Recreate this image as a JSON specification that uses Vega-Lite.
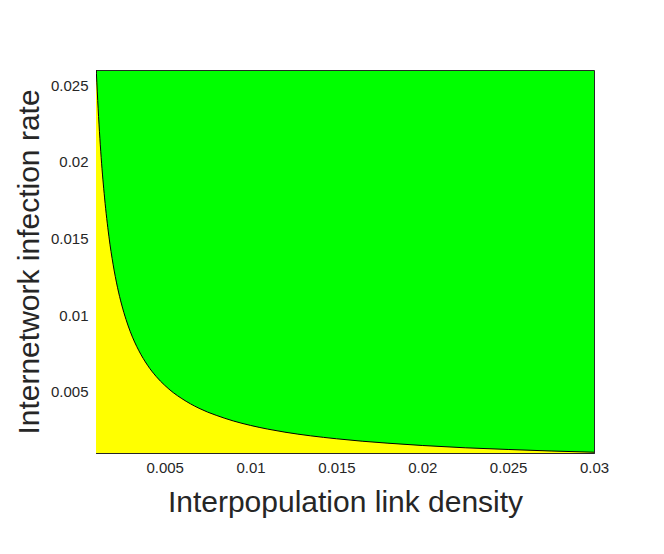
{
  "$schema": "https://vega.github.io/schema/vega-lite/v6.json",
  "autosize": "none",
  "width": 498,
  "height": 383,
  "padding": {"left": 96, "top": 70, "right": 70, "bottom": 101},
  "background": "white",
  "config": {
    "view": {"fill": "#00ff00", "stroke": "#262626", "strokeWidth": 1},
    "font": "Liberation Sans",
    "axis": {
      "domainColor": "#262626",
      "labelColor": "#262626",
      "titleColor": "#262626",
      "labelFont": "Liberation Sans",
      "titleFont": "Liberation Sans",
      "labelFontSize": 15,
      "titleFontSize": 30,
      "titleFontWeight": "normal",
      "grid": false,
      "ticks": false
    }
  },
  "data": {
    "values": [
      {"x": 0.001, "y": 0.0264},
      {"x": 0.0011, "y": 0.0240},
      {"x": 0.0012, "y": 0.0220},
      {"x": 0.0013, "y": 0.0203},
      {"x": 0.0015, "y": 0.01765},
      {"x": 0.00175, "y": 0.01515},
      {"x": 0.002, "y": 0.01328},
      {"x": 0.00225, "y": 0.01182},
      {"x": 0.0025, "y": 0.01066},
      {"x": 0.00275, "y": 0.00971},
      {"x": 0.003, "y": 0.00891},
      {"x": 0.00325, "y": 0.00824},
      {"x": 0.0035, "y": 0.00767},
      {"x": 0.00375, "y": 0.00717},
      {"x": 0.004, "y": 0.00673},
      {"x": 0.0045, "y": 0.0060},
      {"x": 0.005, "y": 0.00542},
      {"x": 0.0055, "y": 0.00494},
      {"x": 0.006, "y": 0.00455},
      {"x": 0.0065, "y": 0.00421},
      {"x": 0.007, "y": 0.00392},
      {"x": 0.0075, "y": 0.00367},
      {"x": 0.008, "y": 0.00346},
      {"x": 0.009, "y": 0.00309},
      {"x": 0.01, "y": 0.0028},
      {"x": 0.011, "y": 0.00256},
      {"x": 0.012, "y": 0.00236},
      {"x": 0.0135, "y": 0.00212},
      {"x": 0.015, "y": 0.00193},
      {"x": 0.0165, "y": 0.00177},
      {"x": 0.018, "y": 0.00164},
      {"x": 0.02, "y": 0.00149},
      {"x": 0.0225, "y": 0.00134},
      {"x": 0.025, "y": 0.00123},
      {"x": 0.0275, "y": 0.00113},
      {"x": 0.03, "y": 0.00105}
    ]
  },
  "encoding": {
    "x": {
      "field": "x",
      "type": "quantitative",
      "scale": {"domain": [0.001, 0.03], "zero": false, "nice": false},
      "axis": {
        "title": "Interpopulation link density",
        "values": [0.005, 0.01, 0.015, 0.02, 0.025, 0.03],
        "format": "~g",
        "labelPadding": 7,
        "titlePadding": 12,
        "labelFlush": false
      }
    },
    "y": {
      "field": "y",
      "type": "quantitative",
      "scale": {"domain": [0.001, 0.026], "zero": false, "nice": false},
      "axis": {
        "title": "Internetwork infection rate",
        "values": [0.005, 0.01, 0.015, 0.02, 0.025],
        "format": "~g",
        "labelPadding": 8,
        "titlePadding": 6,
        "labelFlush": false
      }
    }
  },
  "layer": [
    {
      "mark": {"type": "area", "color": "#ffff00", "clip": true, "interpolate": "monotone"},
      "encoding": {"y2": {"datum": 0.001}}
    },
    {
      "mark": {"type": "line", "color": "#000000", "strokeWidth": 1, "clip": true, "interpolate": "monotone"},
      "encoding": {}
    }
  ]
}
